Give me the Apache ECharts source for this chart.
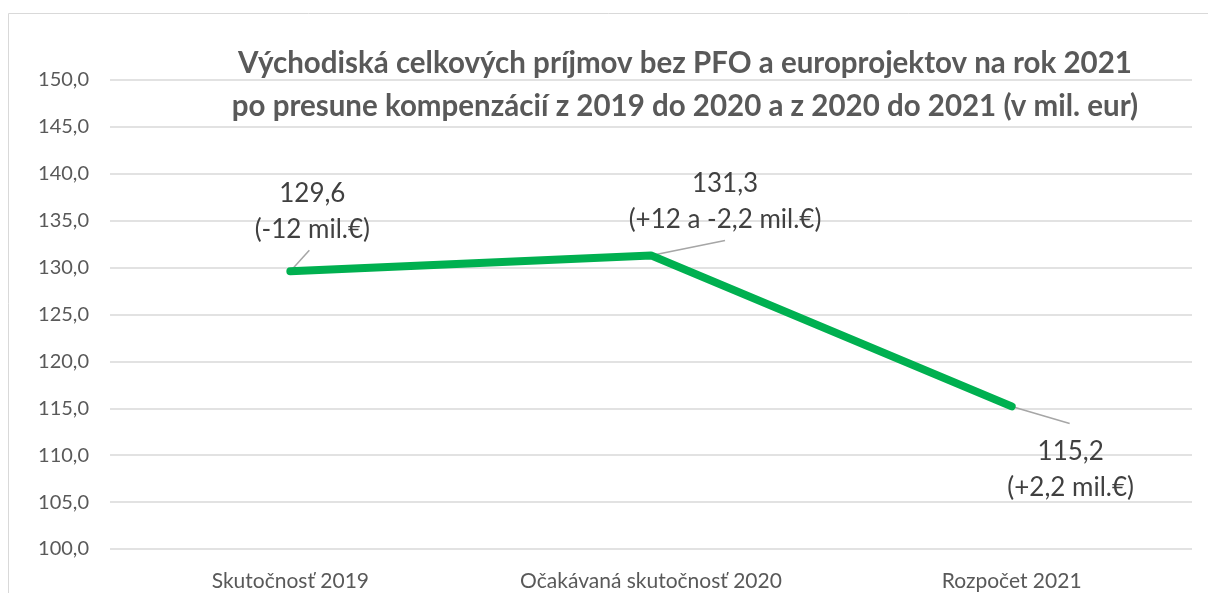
<!DOCTYPE html>
<html>
<head>
<meta charset="utf-8">
<script src="https://cdn.jsdelivr.net/npm/echarts@6/dist/echarts.min.js"></script>
<style>
  html, body { margin: 0; padding: 0; background: #fff; }
  #chart { width: 1208px; height: 593px; }
</style>
</head>
<body>
<div id="chart"></div>
<script>
var categories = ["Skutočnosť 2019", "Očakávaná skutočnosť 2020", "Rozpočet 2021"];
var values = [129.6, 131.3, 115.2];
var notes = ["(-12 mil.€)", "(+12 a -2,2 mil.€)", "(+2,2 mil.€)"];
// label offsets from the point, and where the leader line ends
var labelShift = [[22, -54], [74, -48], [59, 69]];
var leaderEnd = [[19, -21], [74, -15], [58, 17]];

var font = "Lato, 'Open Sans', sans-serif";
var chart = echarts.init(document.getElementById("chart"));

chart.setOption({
  animation: false,
  textStyle: { fontFamily: font },
  title: {
    text: "Východiská celkových príjmov bez PFO a europrojektov na rok 2021\npo presune kompenzácií z 2019 do 2020 a z 2020 do 2021 (v mil. eur)",
    left: 680,
    top: 37,
    textAlign: "center",
    textStyle: {
      fontSize: 29.5,
      fontWeight: "bold",
      color: "#595959",
      lineHeight: 43,
      fontFamily: font
    }
  },
  graphic: [{
    type: "rect",
    shape: { x: 8.5, y: 13.5, width: 1300, height: 700 },
    style: { fill: "none", stroke: "#d9d9d9", lineWidth: 1 },
    silent: true
  }],
  grid: { left: 110, right: 16, top: 80, bottom: 44 },
  xAxis: {
    type: "category",
    data: categories,
    axisLine: { show: false },
    axisTick: { show: false },
    axisLabel: { fontSize: 21, color: "#595959", margin: 22, fontFamily: font }
  },
  yAxis: {
    type: "value",
    min: 100,
    max: 150,
    interval: 5,
    axisLine: { show: false },
    axisTick: { show: false },
    splitLine: { lineStyle: { color: "#d9d9d9", width: 1.5 } },
    axisLabel: {
      fontSize: 20,
      color: "#595959",
      margin: 21,
      fontFamily: font,
      formatter: function (v) { return v.toFixed(1).replace(".", ","); }
    }
  },
  series: [{
    type: "line",
    data: values,
    showSymbol: true,
    symbol: "circle",
    symbolSize: 1,
    itemStyle: { color: "#00b050" },
    lineStyle: { color: "#00b050", width: 8, cap: "round", join: "round" },
    z: 3,
    label: {
      show: true,
      fontSize: 26,
      color: "#404040",
      lineHeight: 36,
      align: "center",
      verticalAlign: "middle",
      fontFamily: font,
      formatter: function (p) {
        return p.value.toFixed(1).replace(".", ",") + "\n" + notes[p.dataIndex];
      }
    },
    labelLayout: function (p) {
      var s = labelShift[p.dataIndex];
      return { dx: s[0], dy: s[1] };
    }
  }]
});

// leader lines from each point toward its label
var leaders = values.map(function (v, i) {
  var pt = chart.convertToPixel({ gridIndex: 0 }, [i, v]);
  return {
    type: "line",
    silent: true,
    z: 2,
    shape: { x1: pt[0], y1: pt[1], x2: pt[0] + leaderEnd[i][0], y2: pt[1] + leaderEnd[i][1] },
    style: { stroke: "#a6a6a6", lineWidth: 1.5 }
  };
});
chart.setOption({
  graphic: [{
    type: "rect",
    shape: { x: 8.5, y: 13.5, width: 1300, height: 700 },
    style: { fill: "none", stroke: "#d9d9d9", lineWidth: 1 },
    silent: true
  }].concat(leaders)
});
</script>
</body>
</html>
